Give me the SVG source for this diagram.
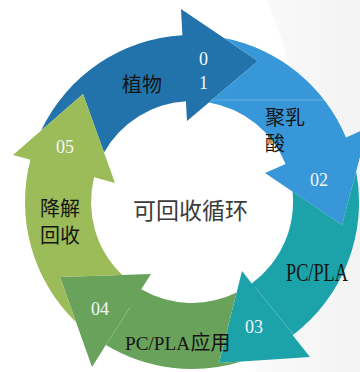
<svg xmlns="http://www.w3.org/2000/svg" width="360" height="372" viewBox="0 0 360 372">
  <defs>
    <linearGradient id="bgGrad" x1="0" y1="0" x2="1" y2="0">
      <stop offset="0" stop-color="#fafafa"/>
      <stop offset="1" stop-color="#f3f3f3"/>
    </linearGradient>
    <style>
      .cjk { font-family: "Noto Sans CJK SC", "Noto Sans", sans-serif; font-size: 20px; fill: #151515; }
      .title { font-family: "Noto Sans CJK SC", "Noto Sans", sans-serif; font-size: 23px; fill: #3c3c3c; }
      .num { font-family: "Liberation Serif", "Times New Roman", serif; font-size: 18px; fill: #f4f7fa; }
      .lat { font-family: "Liberation Serif", "Times New Roman", serif; font-size: 18.3px; fill: #151515; }
      .seam { stroke: #ffffff; stroke-opacity: 0.35; stroke-width: 0.7; fill: none; }
    </style>
  </defs>
  <rect x="0" y="0" width="360" height="372" fill="#ffffff"/>
  <path d="M267,0 H360 V372 H255 Q345,190 267,0 Z" fill="url(#bgGrad)"/>

  <g id="node1">
    <path fill="#2273ab" d="M104.0,152.4 L83,94 L41.1,130.6 A167,167 0 0 1 182.4,35.3 L181,9 L258,61 L187,121 L185.9,101.2 A101,101 0 0 0 104.0,152.4 Z"/>
    <text class="cjk" x="122" y="92">植物</text>
    <text class="num" x="199" y="65" font-size="17">0</text>
    <text class="num" x="199" y="89" font-size="17">1</text>
  </g>

  <g id="node2">
    <path fill="#3797d9" d="M209.0,102.4 L258,61 L224.1,38.1 A167,167 0 0 1 346.0,137.5 L367.6,128 L342,225 L265,173 L285.6,164.0 A101,101 0 0 0 209.0,102.4 Z"/>
    <line class="seam" x1="211" y1="100" x2="325" y2="100" stroke-opacity="0.2"/>
    <text class="cjk" x="265" y="125">聚乳</text>
    <text class="cjk" x="265" y="151">酸</text>
    <text class="num" x="310" y="186">02</text>
  </g>

  <g id="node3">
    <path fill="#1ba3a9" d="M292.5,191.5 L342,225 L356.2,171.3 A167,167 0 0 1 292.7,335.2 L310,357 L219,363 L242,271 L251.8,283.4 A101,101 0 0 0 292.5,191.5 Z"/>
    <line class="seam" x1="255" y1="287" x2="297" y2="339"/>
    <text class="lat" transform="translate(286,281) scale(1,1.35)">PC/PLA</text>
    <text class="num" x="245" y="333">03</text>
  </g>

  <g id="node4">
    <path fill="#69a25b" d="M236.6,292.6 L219,363 L241.4,361.5 A167,167 0 0 1 105.9,345.1 L92,367 L60,277 L151,274 L141.3,289.3 A101,101 0 0 0 236.6,292.6 Z"/>
    <line class="seam" x1="130" y1="307" x2="103" y2="350"/>
    <text x="125" y="350"><tspan class="lat" font-size="24" textLength="65" lengthAdjust="spacingAndGlyphs">PC/PLA</tspan><tspan class="cjk" x="190.5">应用</tspan></text>
    <text class="num" x="91" y="315">04</text>
  </g>

  <g id="node5">
    <path fill="#9cbb59" d="M122.2,275.0 L60,277 L76.1,322.2 A167,167 0 0 1 30.4,159.8 L13,155 L83,94 L115,183 L94.1,177.3 A101,101 0 0 0 122.2,275.0 Z"/>
    <text class="cjk" x="40" y="216">降解</text>
    <text class="cjk" x="40" y="243">回收</text>
    <text class="num" x="56" y="153">05</text>
  </g>

  <g id="center">
    <text class="title" x="133" y="219">可回收循环</text>
  </g>
  <g id="connectors"/>
</svg>
